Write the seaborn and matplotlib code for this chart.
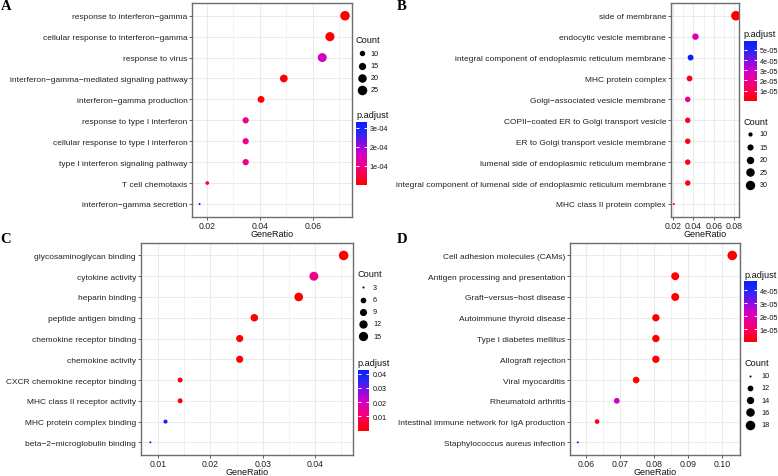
import numpy as np
import pandas as pd
import matplotlib
matplotlib.use("Agg")
import matplotlib.pyplot as plt
import seaborn as sns
from matplotlib.colors import LinearSegmentedColormap, Normalize
from matplotlib.cm import ScalarMappable
from matplotlib.ticker import MultipleLocator, AutoMinorLocator, FormatStrFormatter, FuncFormatter

# ---------------- data ----------------
a_terms = ["response to interferon\u2212gamma", "cellular response to interferon\u2212gamma",
           "response to virus", "interferon\u2212gamma\u2212mediated signaling pathway",
           "interferon\u2212gamma production", "response to type I interferon",
           "cellular response to type I interferon", "type I interferon signaling pathway",
           "T cell chemotaxis", "interferon\u2212gamma secretion"]
a_ratio = [0.0722, 0.0665, 0.0636, 0.0491, 0.0405, 0.0347, 0.0347, 0.0347, 0.0202, 0.0173]
a_count = [25, 23, 22, 17, 14, 12, 12, 12, 7, 6]
a_padj = [3e-7, 5e-7, 1.6e-4, 2e-6, 4e-6, 1.0e-4, 1.0e-4, 1.0e-4, 0.85e-4, 3.3e-4]
a_count_breaks = [10, 15, 20, 25]
a_padj_breaks = [1e-4, 2e-4, 3e-4]

b_terms = ["side of membrane", "endocytic vesicle membrane",
           "integral component of endoplasmic reticulum membrane", "MHC protein complex",
           "Golgi\u2212associated vesicle membrane", "COPII\u2212coated ER to Golgi transport vesicle",
           "ER to Golgi transport vesicle membrane", "lumenal side of endoplasmic reticulum membrane",
           "integral component of lumenal side of endoplasmic reticulum membrane",
           "MHC class II protein complex"]
b_ratio = [0.0818, 0.0420, 0.0372, 0.0362, 0.0344, 0.0344, 0.0344, 0.0344, 0.0344, 0.0207]
b_count = [31, 16, 14, 14, 13, 13, 13, 13, 13, 8]
b_padj = [1e-8, 2.6e-5, 5.9e-5, 5e-6, 1.7e-5, 6e-6, 5e-6, 5e-6, 5e-6, 4e-6]
b_count_breaks = [10, 15, 20, 25, 30]
b_padj_breaks = [1e-5, 2e-5, 3e-5, 4e-5, 5e-5]

c_terms = ["glycosaminoglycan binding", "cytokine activity", "heparin binding",
           "peptide antigen binding", "chemokine receptor binding", "chemokine activity",
           "CXCR chemokine receptor binding", "MHC class II receptor activity",
           "MHC protein complex binding", "beta\u22122\u2212microglobulin binding"]
c_ratio = [0.0455, 0.0398, 0.0369, 0.0284, 0.0256, 0.0256, 0.0142, 0.0142, 0.0114, 0.0085]
c_count = [16, 14, 13, 10, 9, 9, 5, 5, 4, 3]
c_padj = [1e-5, 0.013, 5e-5, 1e-4, 2e-4, 2e-4, 5e-4, 6e-4, 0.0385, 0.0427]
c_count_breaks = [3, 6, 9, 12, 15]
c_padj_breaks = [0.01, 0.02, 0.03, 0.04]

d_terms = ["Cell adhesion molecules (CAMs)", "Antigen processing and presentation",
           "Graft\u2212versus\u2212host disease", "Autoimmune thyroid disease",
           "Type I diabetes mellitus", "Allograft rejection", "Viral myocarditis",
           "Rheumatoid arthritis", "Intestinal immune network for IgA production",
           "Staphylococcus aureus infection"]
d_ratio = [0.1030, 0.0862, 0.0862, 0.0805, 0.0805, 0.0805, 0.0747, 0.0690, 0.0632, 0.0575]
d_count = [18, 15, 15, 14, 14, 14, 13, 12, 11, 10]
d_padj = [1e-9, 1e-8, 1e-8, 1e-8, 1e-8, 1e-8, 2e-7, 2.3e-5, 2e-6, 4.68e-5]
d_count_breaks = [10, 12, 14, 16, 18]
d_padj_breaks = [1e-5, 2e-5, 3e-5, 4e-5]

# ---------------- colour ramp red -> blue ----------------
cmap = LinearSegmentedColormap.from_list(
    "padj",
    [(0.0, "#FF0000"), (0.15, "#FA0040"), (0.3, "#EE0088"), (0.5, "#D000C8"),
     (0.68, "#7A10E4"), (0.82, "#2A28F2"), (1.0, "#0A1EFF")])

# ---------------- layout helpers ----------------
W, H, DPI = 778, 477, 100
fig = plt.figure(figsize=(W / DPI, H / DPI), dpi=DPI)
plt.rcParams["font.family"] = ["Liberation Sans", "DejaVu Sans"]


def px_axes(x0, y0, x1, y1):
    return fig.add_axes([x0 / W, 1 - y1 / H, (x1 - x0) / W, (y1 - y0) / H])


ov = fig.add_axes([0, 0, 1, 1])
ov.set_xlim(0, W)
ov.set_ylim(H, 0)
ov.axis("off")
ov.set_zorder(10)
ov.patch.set_alpha(0)

K = 0.53  # px per ggplot-pt for point diameter


def diam_px(c, cmin, cmax):
    sz = 1 + 5 * np.sqrt((c - cmin) / (cmax - cmin))
    return K * (sz * 2.845 + 0.945)


def area(c, cmin, cmax):
    return (diam_px(c, cmin, cmax) * 72 / DPI) ** 2


def panel(terms, ratio, count, padj, cbreaks, pbreaks, box, step, pfmt,
          cnt_pos, cb_box, letter, letter_pos):
    n = len(terms)
    df = pd.DataFrame({"term": terms, "GeneRatio": ratio, "Count": count, "p.adjust": padj})
    df["ypos"] = n - np.arange(n)
    cmin, cmax = min(count), max(count)
    sizes = {c: area(c, cmin, cmax) for c in sorted(set(count))}
    norm = Normalize(min(padj), max(padj))
    ax = px_axes(*box)
    sns.scatterplot(data=df, x="GeneRatio", y="ypos", hue="p.adjust", size="Count",
                    sizes=sizes, palette=cmap, hue_norm=norm, legend=False,
                    linewidth=0, ax=ax, zorder=3)
    lo, hi = min(ratio), max(ratio)
    ex = 0.05 * (hi - lo)
    ax.set_xlim(lo - ex, hi + ex)
    ax.set_ylim(0.4, n + 0.6)
    ax.xaxis.set_major_locator(MultipleLocator(step))
    ax.xaxis.set_minor_locator(AutoMinorLocator(2))
    ax.xaxis.set_major_formatter(FormatStrFormatter("%.2f"))
    ax.set_yticks(df["ypos"])
    ax.set_yticklabels(df["term"])
    ax.grid(True, which="major", color="#EBEBEB", lw=0.75, zorder=0)
    ax.grid(True, which="minor", axis="x", color="#EBEBEB", lw=0.45, zorder=0)
    ax.set_axisbelow(True)
    for s in ax.spines.values():
        s.set_color("#6E6E6E")
        s.set_linewidth(1.0)
    ax.tick_params(axis="both", which="major", direction="out", length=2, width=0.6,
                   color="#444444", labelcolor="#222222", labelsize=6.05, pad=1.3)
    ax.tick_params(axis="x", which="major", labelsize=6.3, pad=1.0)
    ax.tick_params(axis="x", which="minor", length=0)
    ax.set_xlabel("GeneRatio", fontsize=6.5, labelpad=-0.5, color="#111111")
    ax.set_ylabel("")

    # Count legend
    tx, ty, dx, lx, ys = cnt_pos
    ov.text(tx, ty, "Count", fontsize=6.6, va="center", ha="left", color="#111111")
    for cb, yy in zip(cbreaks, ys):
        ov.scatter([dx], [yy], s=area(cb, cmin, cmax), c="black", linewidths=0)
        ov.text(lx, yy, str(cb), fontsize=5.2, va="center", ha="left", color="#111111")

    # p.adjust colour bar
    x0, y0, x1, y1 = cb_box
    ov.text(x0, y0 - 7.0, "p.adjust", fontsize=6.6, va="center", ha="left", color="#111111")
    cax = px_axes(x0, y0, x1, y1)
    cb = fig.colorbar(ScalarMappable(norm=norm, cmap=cmap), cax=cax)
    cb.outline.set_visible(False)
    cb.set_ticks(pbreaks)
    cb.ax.yaxis.set_major_formatter(FuncFormatter(pfmt))
    cax.tick_params(direction="in", length=2.2, width=0.7, color="white", labelsize=5.2,
                    labelcolor="#111111", pad=2.2, left=True, right=True)

    ov.text(letter_pos[0], letter_pos[1], letter, fontsize=10.5, fontweight="bold",
            family="Liberation Serif", va="top", ha="left")
    return ax


sci = lambda v, p: f"{v:.0e}"
dec = lambda v, p: f"{v:.2f}"

panel(a_terms, a_ratio, a_count, a_padj, a_count_breaks, a_padj_breaks,
      (192.3, 4.2, 352.3, 217.5), 0.02, sci,
      (355.5, 40.7, 361.7, 370.5, [54.3, 66.7, 78.7, 90.7]),
      (356.0, 123.0, 366.7, 186.0), "A", (0.5, 0.5))

panel(b_terms, b_ratio, b_count, b_padj, b_count_breaks, b_padj_breaks,
      (670.7, 4.2, 739.0, 217.5), 0.02, sci,
      (744.0, 122.7, 750.0, 759.5, [135.0, 148.3, 161.0, 173.3, 185.7]),
      (743.5, 41.7, 756.5, 101.7), "B", (396.5, 0.5))

panel(c_terms, c_ratio, c_count, c_padj, c_count_breaks, c_padj_breaks,
      (140.7, 244.0, 353.3, 455.8), 0.01, dec,
      (357.5, 274.3, 363.3, 373.0, [288.3, 301.0, 312.7, 325.0, 337.3]),
      (357.7, 370.7, 369.3, 431.7), "C", (0.5, 233.5))

panel(d_terms, d_ratio, d_count, d_padj, d_count_breaks, d_padj_breaks,
      (570.0, 244.0, 740.0, 455.8), 0.01, sci,
      (744.3, 363.3, 750.0, 761.0, [376.7, 389.0, 401.3, 413.3, 426.0]),
      (744.3, 282.3, 756.7, 343.3), "D", (396.5, 233.5))

fig.savefig("out.png", dpi=DPI)
